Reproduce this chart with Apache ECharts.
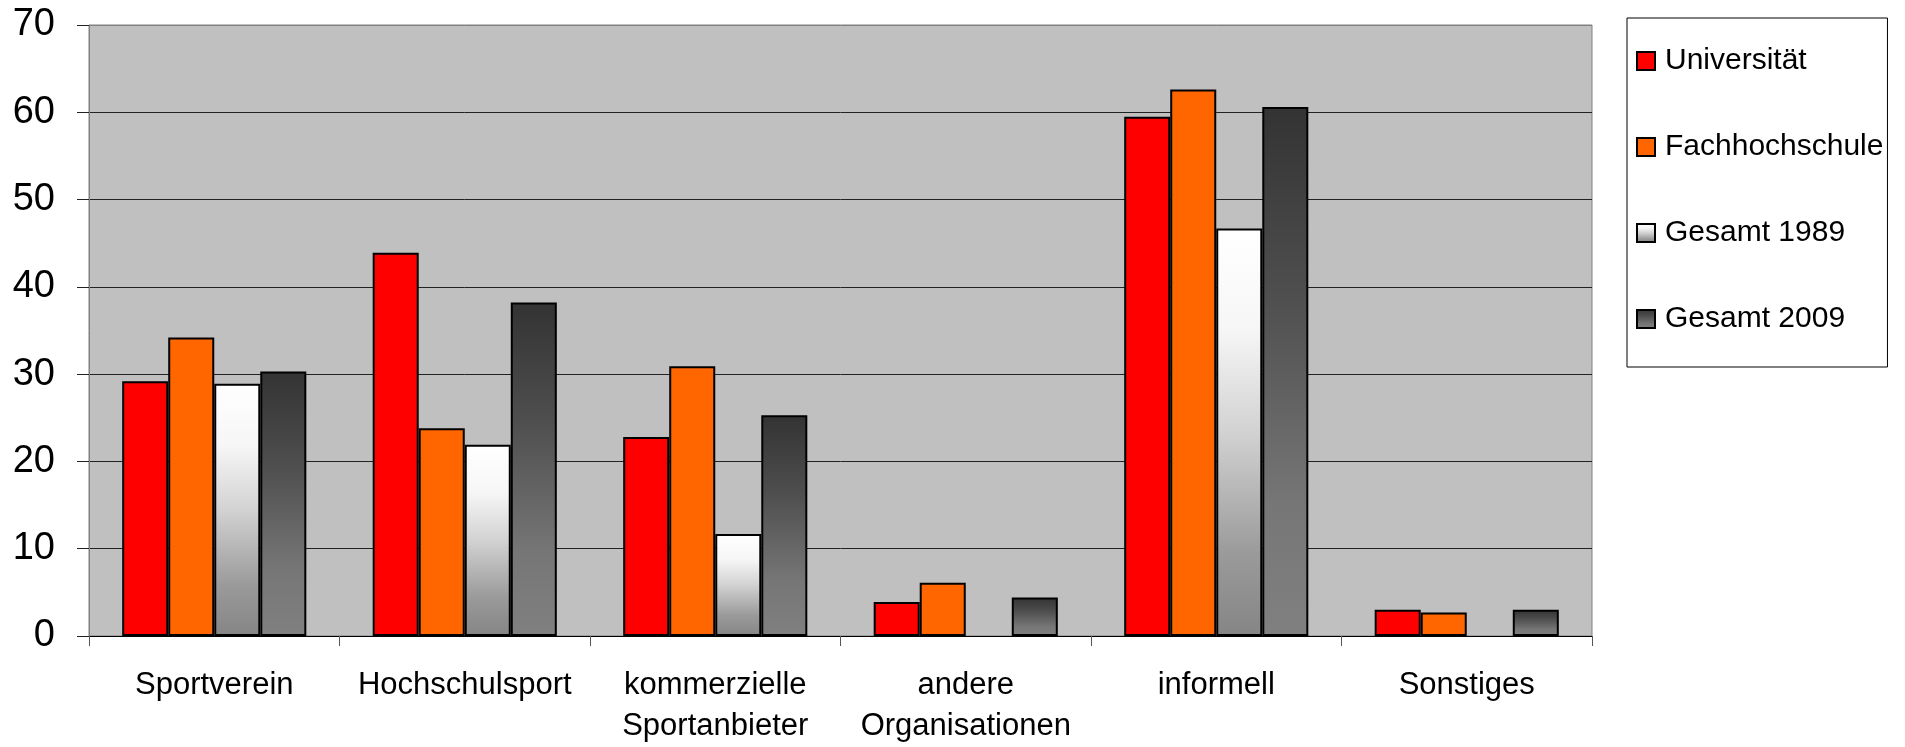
<!DOCTYPE html>
<html>
<head>
<meta charset="utf-8">
<script src="https://cdn.jsdelivr.net/npm/echarts@6/dist/echarts.min.js"></script>
<style>
  html, body { margin: 0; padding: 0; background: #ffffff; }
  #chart { width: 1905px; height: 747px; }
</style>
</head>
<body>
<div id="chart"></div>
<script>
// Categories of sport participation
const categories = ['Sportverein', 'Hochschulsport', 'kommerzielle\nSportanbieter', 'andere\nOrganisationen', 'informell', 'Sonstiges'];

// Percentages per group
const universitaet   = [29.2, 43.9, 22.8, 3.9, 59.5, 3.0];
const fachhochschule = [34.2, 23.8, 30.9, 6.1, 62.6, 2.7];
const gesamt1989     = [28.9, 21.9, 11.7, null, 46.7, null];
const gesamt2009     = [30.3, 38.2, 25.3, 4.4, 60.6, 3.0];

const seriesNames = ['Universität', 'Fachhochschule', 'Gesamt 1989', 'Gesamt 2009'];

// Value axis range
const yMin = 0, yMax = 70, yStep = 10;

const FONT = "'Liberation Sans', Arial, sans-serif";

const grad = (stops) => ({
  type: 'linear', x: 0, y: 0, x2: 0, y2: 1,
  colorStops: stops.map(([offset, color]) => ({ offset, color }))
});

const fills = [
  '#ff0000',
  '#ff6600',
  grad([[0, '#ffffff'], [0.25, '#f6f6f6'], [0.5, '#d2d2d2'], [0.8, '#9a9a9a'], [1, '#858585']]),
  grad([[0, '#333333'], [0.35, '#4e4e4e'], [0.75, '#767676'], [1, '#808080']])
];

const seriesData = [universitaet, fachhochschule, gesamt1989, gesamt2009];

const chart = echarts.init(document.getElementById('chart'), null, { renderer: 'canvas' });

chart.setOption({
  animation: false,
  backgroundColor: '#ffffff',
  textStyle: { fontFamily: FONT },
  grid: {
    left: 89, right: 313, top: 25, bottom: 110,
    show: true, backgroundColor: '#c0c0c0', borderColor: '#808080', borderWidth: 1
  },
  legend: {
    orient: 'vertical',
    left: 1627, top: 18,
    padding: [28, 4, 33, 9],
    backgroundColor: '#ffffff',
    borderColor: '#000000', borderWidth: 1,
    itemWidth: 18, itemHeight: 18,
    itemGap: 56,
    icon: 'rect',
    itemStyle: { borderColor: '#000000', borderWidth: 2 },
    textStyle: { fontFamily: FONT, fontSize: 30, color: '#000000', lineHeight: 30, padding: [0, 0, 0, 5] },
    data: seriesNames
  },
  xAxis: {
    type: 'category',
    data: categories,
    axisLine: { show: true, lineStyle: { color: '#000000', width: 1 } },
    axisTick: { show: true, length: 10, lineStyle: { color: '#555555' } },
    axisLabel: {
      interval: 0, margin: 29, fontSize: 31, lineHeight: 41,
      color: '#000000', fontFamily: FONT
    },
    splitLine: { show: false }
  },
  yAxis: {
    type: 'value',
    min: yMin, max: yMax, interval: yStep,
    axisLine: { show: true, lineStyle: { color: '#808080', width: 1 } },
    axisTick: { show: true, length: 12, lineStyle: { color: '#222222' } },
    axisLabel: { margin: 34, fontSize: 38, color: '#000000', fontFamily: FONT },
    splitLine: {
      show: true,
      lineStyle: { color: ['#000', '#222', '#222', '#222', '#222', '#222', '#222', '#808080'], width: 1 }
    }
  },
  series: seriesNames.map((name, i) => ({
    name,
    type: 'bar',
    data: seriesData[i],
    barGap: '0%',
    barCategoryGap: '26.5%',
    itemStyle: { color: fills[i], borderColor: '#000000', borderWidth: 2 }
  }))
});
</script>
</body>
</html>
